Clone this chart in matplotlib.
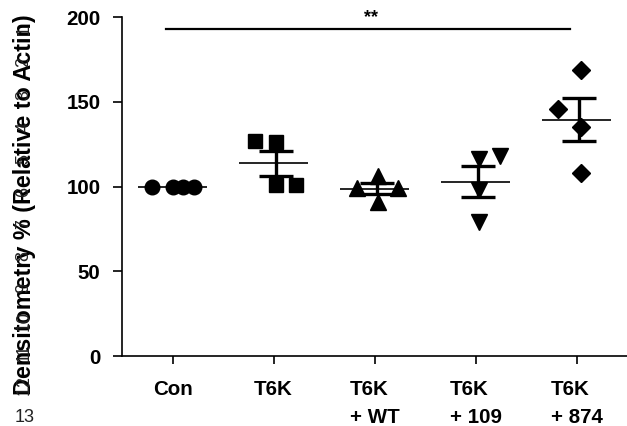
import numpy as np
from matplotlib import pyplot as plt

plt.rcParams['font.family'] = ['Liberation Sans', 'DejaVu Sans']

# Data (densitometry, % of actin)
groups = ['Con', 'T6K', 'T6K\n+ WT', 'T6K\n+ 109', 'T6K\n+ 874']
con = [100, 100, 100, 100]
t6k = [127, 126, 101, 101]
t6k_wt = [99, 106, 99, 91]
t6k_109 = [116, 118, 98, 79]
t6k_874 = [169, 146, 135, 108]
values = [con, t6k, t6k_wt, t6k_109, t6k_874]
markers = ['o', 's', '^', 'v', 'D']
msizes = [10.5, 10, 11, 11, 9.5]
# horizontal scatter of the points inside each column
jitter = [[-0.2, 0.0, 0.1, 0.21],
          [-0.18, 0.02, 0.02, 0.22],
          [-0.17, 0.03, 0.23, 0.03],
          [0.03, 0.24, 0.03, 0.03],
          [0.04, -0.18, 0.04, 0.04]]

fig = plt.figure(figsize=(6.27, 4.26), dpi=100)
ax = fig.add_axes([0.1946, 0.1643, 0.8054, 0.7957])

for i, (v, m, ms, jit) in enumerate(zip(values, markers, msizes, jitter)):
    v = np.array(v, dtype=float)
    mean = v.mean()
    sem = v.std(ddof=1) / np.sqrt(len(v))
    ax.plot(i + np.array(jit), v, linestyle='none', marker=m, ms=ms,
            color='black', zorder=3)
    ax.hlines(mean, i - 0.34, i + 0.34, color='black', lw=1.2, zorder=4)
    if sem > 0:
        ax.errorbar(i + 0.02, mean, yerr=sem, fmt='none', ecolor='black',
                    elinewidth=2.4, capsize=12.5, capthick=2.4, zorder=4)

# significance bar
ax.plot([-0.066, 3.94], [193, 193], color='black', lw=1.6, clip_on=False)
ax.text(1.97, 194.5, '**', ha='center', va='bottom', fontsize=13,
        fontweight='bold')

ax.set_xlim(-0.5, 4.5)
ax.set_ylim(0, 200)
ax.set_yticks([0, 50, 100, 150, 200])
ax.set_xticks(range(len(groups)))
ax.set_xticklabels(groups)
for lbl in ax.get_xticklabels():
    lbl.set_multialignment('left')
    lbl.set_linespacing(1.6)
for lbl in ax.get_xticklabels() + ax.get_yticklabels():
    lbl.set_fontweight('bold')
    lbl.set_fontsize(14.8)

for side in ['top', 'right']:
    ax.spines[side].set_visible(False)
for side in ['left', 'bottom']:
    ax.spines[side].set_linewidth(1.2)
ax.tick_params(axis='y', length=6.5, width=1.2, pad=9)
ax.tick_params(axis='x', length=6, width=1.2, pad=11)

fig.text(25 / 627, 1 - 205 / 426, 'Densitometry % (Relative to Actin)',
         rotation=90, ha='center', va='center', fontsize=16.8,
         fontweight='bold')

# line numbers of the source page bleeding over the label
for n in range(1, 13):
    y = 30 + (n - 1) * 32.3
    fig.text(24 / 627, 1 - y / 426, str(n), rotation=90, ha='center',
             va='center', fontsize=13, color='#222222')
fig.text(25 / 627, 1 - 418 / 426, '13', ha='center', va='center',
         fontsize=13, color='#222222')

plt.savefig('out.png', dpi=100)
